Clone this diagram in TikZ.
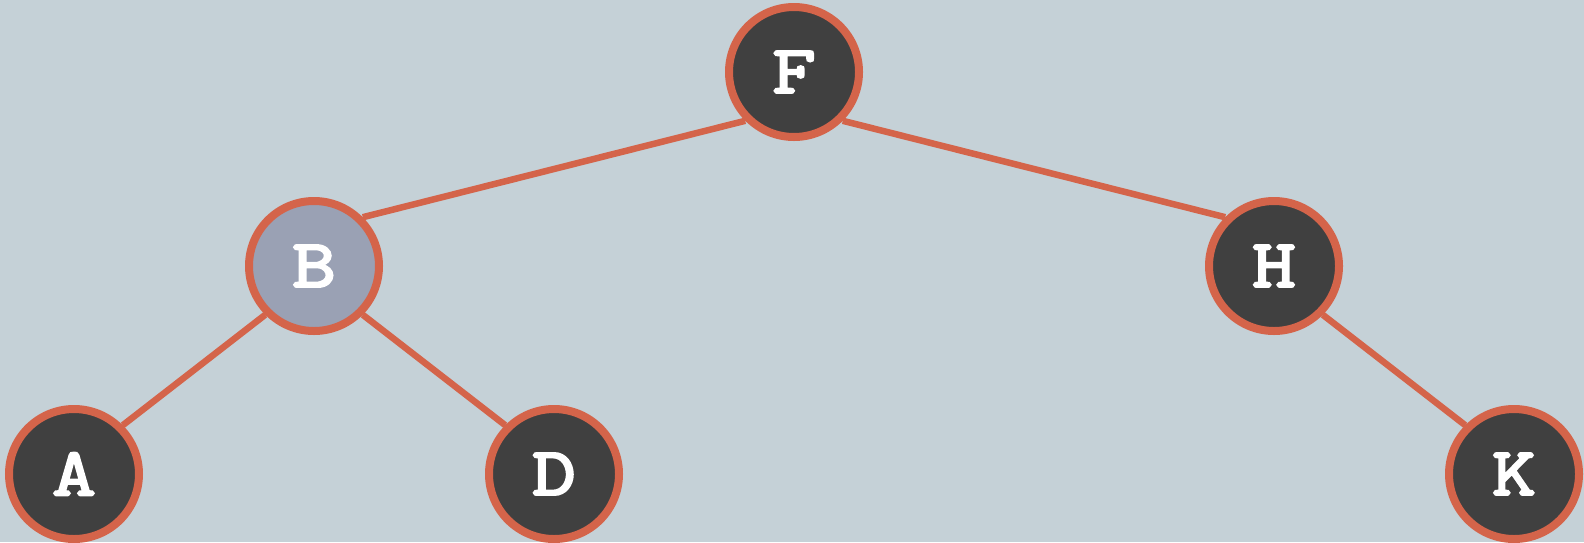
\documentclass[tikz,border=0pt]{standalone}
\usepackage{fontspec}
\newfontfamily\nodefont[FakeBold=3.5,FakeStretch=1.25]{Latin Modern Mono}
\definecolor{bg}{HTML}{C5D1D7}
\definecolor{edgec}{HTML}{D4644A}
\definecolor{nodec}{HTML}{404040}
\definecolor{hil}{HTML}{9AA1B4}
\begin{document}
\begin{tikzpicture}[x=1pt,y=-1pt,
  tnode/.style={circle,draw=edgec,line width=8pt,fill=nodec,minimum size=130pt,inner sep=0pt,text=white,font=\nodefont\fontsize{68}{68}\selectfont},
  tedge/.style={draw=edgec,line width=6.5pt}]
\fill[bg] (0,0) rectangle (1584,542);
\useasboundingbox (0,0) rectangle (1584,542);
\node[tnode] (F) at (794,72) {F};
\node[tnode,fill=hil] (B) at (314,266) {B};
\node[tnode] (H) at (1274,266) {H};
\node[tnode] (A) at (74,474) {A};
\node[tnode] (D) at (554,474) {D};
\node[tnode] (K) at (1514,474) {K};
\draw[tedge] (F.south west) -- (B.north east);
\draw[tedge] (F.south east) -- (H.north west);
\draw[tedge] (B.south west) -- (A.north east);
\draw[tedge] (B.south east) -- (D.north west);
\draw[tedge] (H.south east) -- (K.north west);
\end{tikzpicture}
\end{document}
